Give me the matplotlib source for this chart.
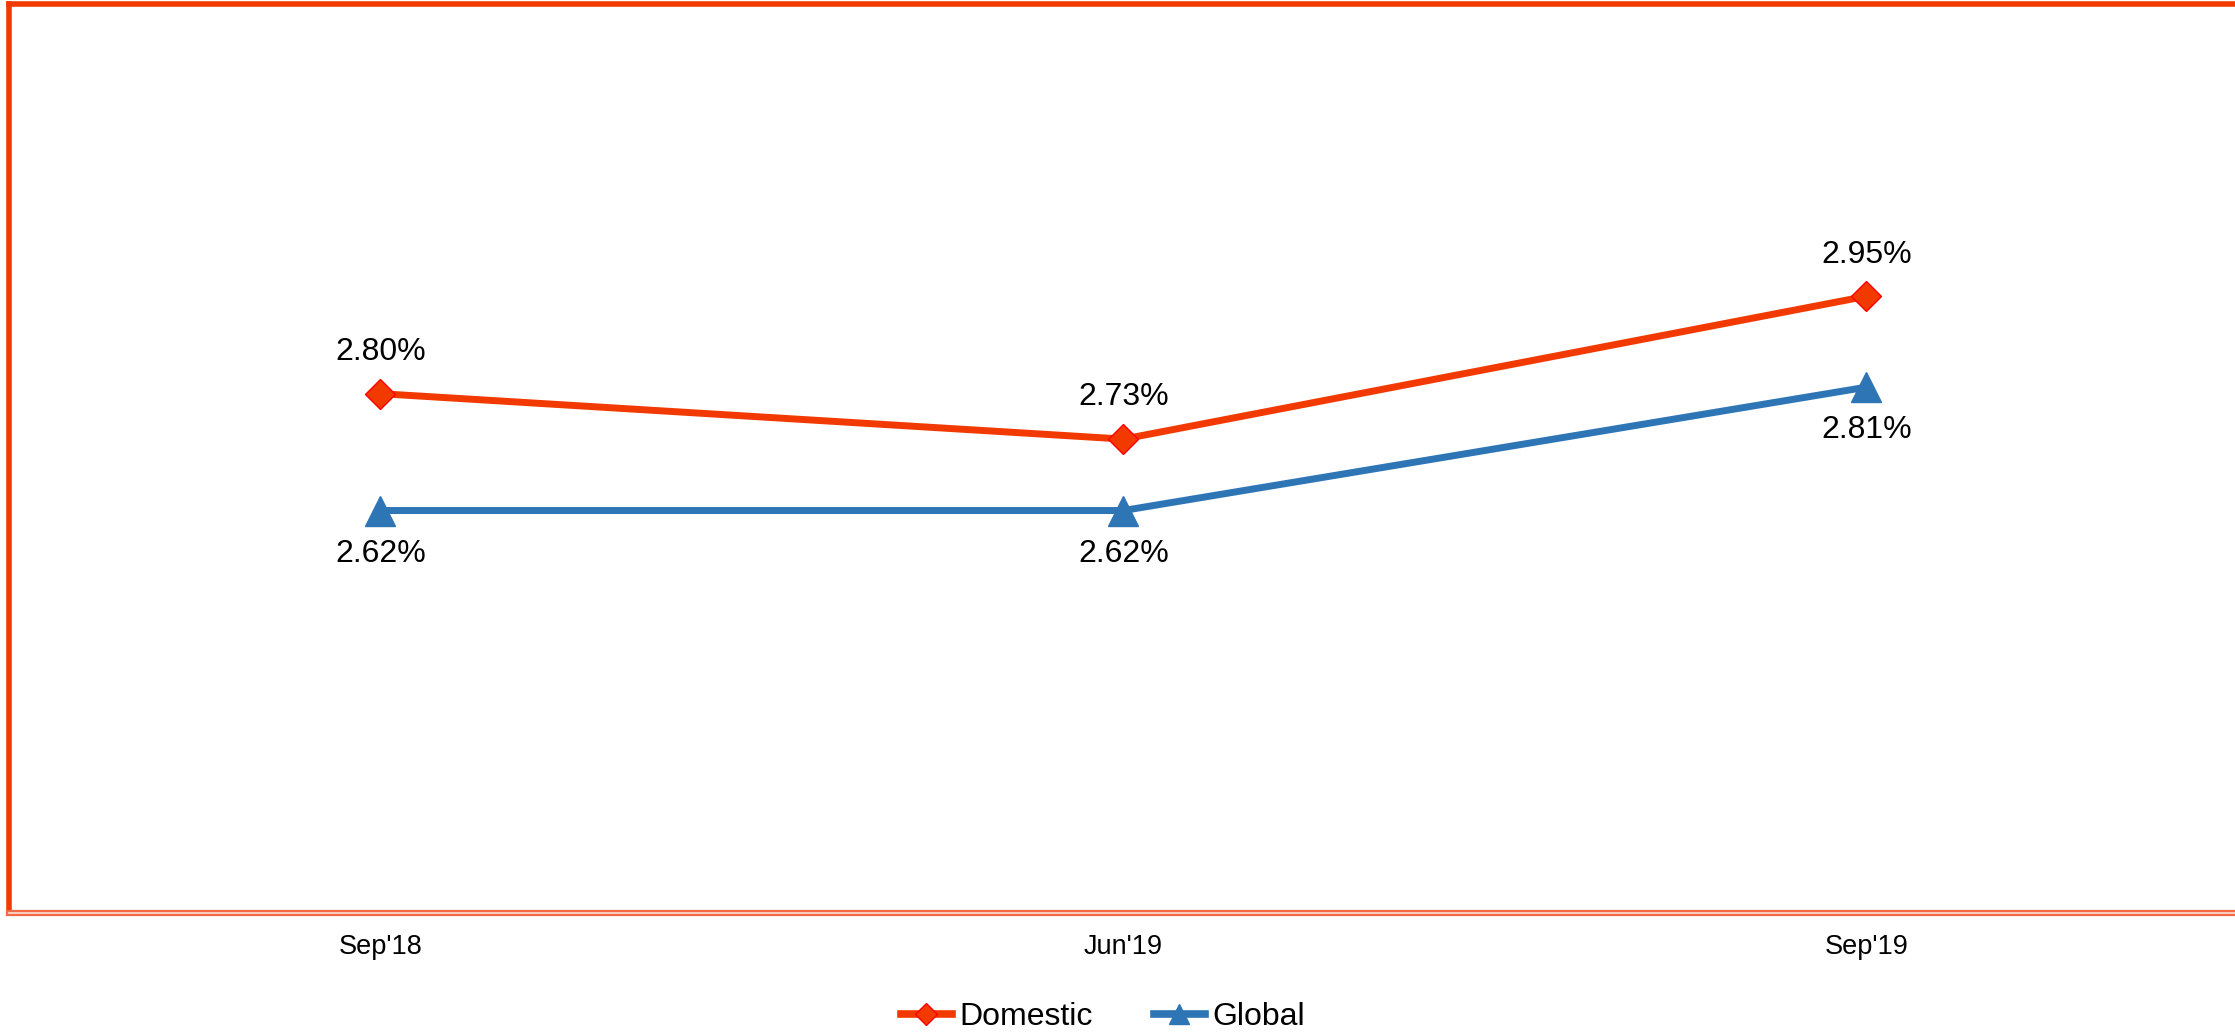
import matplotlib
matplotlib.use("Agg")
import matplotlib.pyplot as plt
from matplotlib.lines import Line2D

categories = ["Sep'18", "Jun'19", "Sep'19"]
domestic = [2.80, 2.73, 2.95]
global_ = [2.62, 2.62, 2.81]
series_names = ["Domestic", "Global"]

RED = "#F23A00"
BLUE = "#2E75B6"
BORDER = "#F23A00"

plt.rcParams['font.family'] = ['Liberation Sans', 'DejaVu Sans']

fig = plt.figure(figsize=(22.35, 10.34), dpi=100)
ax = fig.add_axes([0.004, 0.117, 0.9973, 0.879])

x = list(range(len(categories)))
ax.plot(x, domestic, color=RED, lw=5, marker='D', markersize=15.5,
        markerfacecolor=RED, markeredgecolor='#FF0000', markeredgewidth=1,
        label=series_names[0], zorder=3)
ax.plot(x, global_, color=BLUE, lw=5, marker='^', markersize=22,
        markerfacecolor=BLUE, markeredgecolor=BLUE,
        label=series_names[1], zorder=3)

for xi, v in zip(x, domestic):
    ax.annotate(f"{v:.2f}%", (xi, v), xytext=(0, 30), textcoords='offset points',
                ha='center', va='center', fontsize=23, color='black')
for xi, v in zip(x, global_):
    ax.annotate(f"{v:.2f}%", (xi, v), xytext=(0, -31), textcoords='offset points',
                ha='center', va='center', fontsize=23, color='black')

ax.set_xlim(-0.5, 2.5)
ax.set_ylim(2.0, 3.4)
ax.set_yticks([])
ax.set_xticks(x)
ax.set_xticklabels(categories, fontsize=19.5)
ax.tick_params(axis='x', length=0, pad=15)

ax.spines['right'].set_visible(False)
ax.spines['left'].set_color(BORDER)
ax.spines['left'].set_linewidth(4)
ax.spines['top'].set_color(BORDER)
ax.spines['top'].set_linewidth(4)
ax.spines['bottom'].set_color('#F26B45')
ax.spines['bottom'].set_linewidth(4.5)
# inner light stripe for double bottom line
ax.add_line(Line2D([0, 1], [0, 0], transform=ax.transAxes, color='#FCE0D6',
                   lw=1.2, clip_on=False, zorder=5))

handles = [
    Line2D([], [], color=RED, lw=5.5, marker='D', markersize=11,
           markerfacecolor=RED, markeredgecolor='#FF0000'),
    Line2D([], [], color=BLUE, lw=5.5, marker='^', markersize=15,
           markerfacecolor=BLUE, markeredgecolor=BLUE),
]
fig.legend(handles, series_names, loc='center', bbox_to_anchor=(0.4935, 0.0164),
           ncol=2, frameon=False, fontsize=23, handlelength=1.6,
           handletextpad=0.25, columnspacing=1.9, borderpad=0)

fig.savefig("out.png", dpi=100)
